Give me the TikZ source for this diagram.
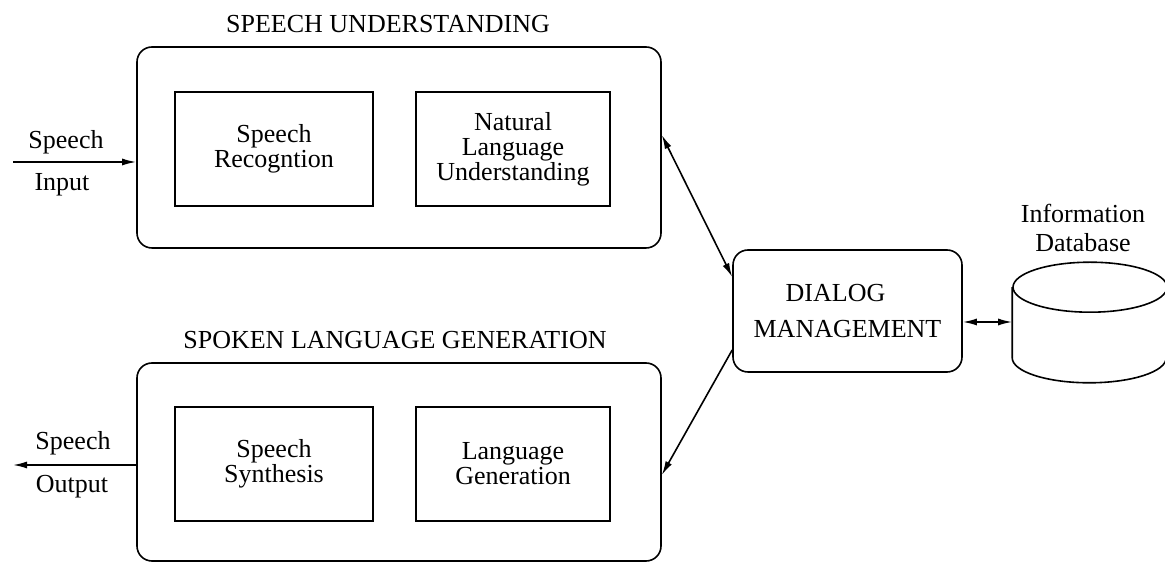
\documentclass[tikz,border=0pt]{standalone}
\usepackage{fontspec}
\setmainfont{Liberation Serif}
\usepackage{tikz}
\usetikzlibrary{%
	arrows.meta,%
	calc%
}

\tikzset{
	panel/.style={draw, rounded corners=15pt, minimum width=524pt},
	module/.style={draw, align=center, minimum height=114pt, inner sep=0pt},
	tip/.style={-{Latex[length=14pt,width=7pt]}},
	duptip/.style={{Latex[length=14pt,width=7pt]}-{Latex[length=14pt,width=7pt]}}
}

\begin{document}
\begin{tikzpicture}[x=1pt, y=1pt, line width=1.6pt, font=\fontsize{26}{25}\selectfont]
	\useasboundingbox (0,0) rectangle (1165,562);
	
	% Panels
	\node[panel, minimum height=201pt] (su) at (399,414.5) {};
	\node[panel, minimum height=198pt] (slg) at (399,100) {};
	\node[inner sep=0pt, anchor=south] (sutitle) at ($(su.north)+(-11,13)$) {SPEECH UNDERSTANDING};
	\node[inner sep=0pt, anchor=south] (slgtitle) at ($(slg.north)+(-4,13)$) {SPOKEN LANGUAGE GENERATION};
	
	% Modules
	\node[module, minimum width=198pt] (sr) at (274,413) {Speech\\Recogntion};
	\node[module, minimum width=194pt] (nlu) at (513,413) {Natural\\Language\\Understanding};
	\node[module, minimum width=198pt] (ss) at (274,98) {Speech\\Synthesis};
	\node[module, minimum width=194pt] (lg) at (513,98) {Language\\Generation};
	
	% Dialog management and database
	\node[draw, rounded corners=15pt, minimum width=229pt, minimum height=122pt, align=center] (dm) at (847.5,251) {\hspace*{-24pt}DIALOG\\[11pt]MANAGEMENT};
	\node[minimum width=154pt, minimum height=119pt, inner sep=0pt] (db) at (1090,239.5) {};
	\node[align=center, font=\fontsize{26}{29}\selectfont] (dblabel) at (1083,334) {Information\\Database};
	
	% Cylinder
	\draw ([yshift=-25pt]db.north) ellipse [x radius=77pt, y radius=25pt];
	\draw ([yshift=-25pt]db.north west) -- ([yshift=25pt]db.south west) arc[start angle=180, end angle=360, x radius=77pt, y radius=25pt] -- ([yshift=-25pt]db.north east);
	
	% Speech in and out
	\coordinate (in) at (13,400);
	\coordinate (out) at (13,97);
	\draw[tip] (in) -- (in -| su.west);
	\draw[tip] (out -| slg.west) -- (out);
	\node (inspeech) at (66,420) {Speech};
	\node (ininput) at (62,377) {Input};
	\node (outspeech) at (73,119) {Speech};
	\node (outoutput) at (72,75) {Output};
	
	% Links
	\draw[duptip] ([yshift=12.5pt]su.east) -- ([yshift=34pt]dm.west);
	\draw[tip] ([yshift=-39pt]dm.west) -- ([yshift=-13pt]slg.east);
	\draw[duptip] ([yshift=-11pt]dm.east) -- ([yshift=-11pt]dm.east -| db.west);
\end{tikzpicture}
\end{document}
